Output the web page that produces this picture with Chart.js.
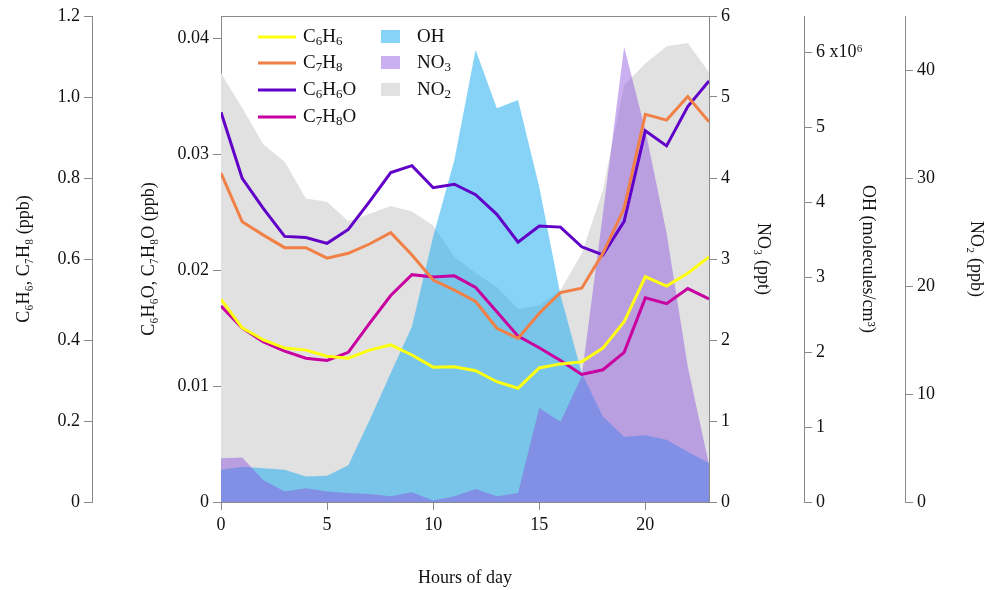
<!DOCTYPE html>
<html>
<head>
<meta charset="utf-8">
<script src="https://cdn.jsdelivr.net/npm/chart.js@4.4.0/dist/chart.umd.min.js"></script>
<style>
  body { margin: 0; background: #fff; }
</style>
</head>
<body>
<canvas id="myChart" width="987" height="590"></canvas>
<script>
// hours of the day
var hours = [0, 1, 2, 3, 4, 5, 6, 7, 8, 9, 10, 11, 12, 13, 14, 15, 16, 17, 18, 19, 20, 21, 22, 23];

// aromatics (ppb, outer left axis)
var c6h6 = [0.50, 0.43, 0.40, 0.38, 0.375, 0.36, 0.355, 0.375, 0.388, 0.363, 0.333, 0.334, 0.324, 0.297, 0.281, 0.331, 0.341, 0.346, 0.38, 0.445, 0.556, 0.533, 0.565, 0.605];
var c7h8 = [0.812, 0.692, 0.659, 0.628, 0.628, 0.602, 0.614, 0.637, 0.665, 0.61, 0.548, 0.523, 0.495, 0.429, 0.404, 0.466, 0.517, 0.528, 0.614, 0.725, 0.957, 0.943, 1.001, 0.939];

// phenols (ppb, inner left axis)
var c6h6o = [0.0336, 0.0279, 0.0253, 0.0229, 0.0228, 0.0223, 0.0235, 0.0259, 0.0284, 0.0290, 0.0271, 0.0274, 0.0265, 0.0248, 0.0224, 0.0238, 0.0237, 0.0220, 0.0213, 0.0242, 0.0320, 0.0307, 0.0341, 0.0363];
var c7h8o = [0.0169, 0.0150, 0.0138, 0.0130, 0.0124, 0.0122, 0.0129, 0.0154, 0.0178, 0.0196, 0.0194, 0.0195, 0.0185, 0.0164, 0.0143, 0.0133, 0.0122, 0.0110, 0.0114, 0.0129, 0.0176, 0.0171, 0.0184, 0.0175];

// oxidants
var no3 = [0.54, 0.55, 0.27, 0.13, 0.17, 0.13, 0.11, 0.10, 0.07, 0.12, 0.02, 0.07, 0.16, 0.07, 0.11, 1.16, 0.99, 1.55, 3.56, 5.62, 4.59, 3.32, 1.67, 0.46];      // ppt
var oh = [0.43, 0.47, 0.45, 0.43, 0.34, 0.35, 0.49, 1.09, 1.72, 2.34, 3.54, 4.56, 6.03, 5.25, 5.36, 4.20, 2.76, 1.72, 1.14, 0.87, 0.89, 0.83, 0.67, 0.52];      // 10^6 molecules/cm3
var no2 = [39.7, 36.5, 33.1, 31.5, 28.1, 27.8, 26.0, 26.7, 27.4, 26.9, 25.6, 22.7, 21.2, 19.9, 17.9, 18.2, 19.6, 23.0, 28.9, 38.6, 40.6, 42.2, 42.5, 39.8]; // ppb

function pts(vals) {
  return hours.map(function(h, i) { return { x: h, y: vals[i] }; });
}

var axisColor = "#8a8a8a";
Chart.defaults.font.family = "'Liberation Serif', 'Times New Roman', serif";
Chart.defaults.font.size = 18;
Chart.defaults.color = "#111";

function yAxis(pos, weight, max, step, width, titleText, padTop, fmt) {
  return {
    type: "linear",
    position: pos,
    weight: weight,
    min: 0,
    max: max,
    grid: { drawOnChartArea: false, tickLength: 8, color: axisColor },
    border: { color: axisColor },
    ticks: { stepSize: step, includeBounds: false, padding: 4, callback: fmt },
    title: { display: true, text: titleText, padding: { top: padTop, bottom: 0 }, font: { size: 18 } },
    afterFit: function(s) { s.width = width; }
  };
}

// legend drawn by hand so it can sit in two columns with subscripts
function drawRich(ctx, text, x, y) {
  var parts = text.split(/(_\d)/);
  parts.forEach(function(p) {
    if (!p) return;
    if (p[0] === "_") {
      ctx.font = "13px 'Liberation Serif', serif";
      ctx.fillText(p[1], x, y + 5);
      x += ctx.measureText(p[1]).width;
    } else {
      ctx.font = "19px 'Liberation Serif', serif";
      ctx.fillText(p, x, y);
      x += ctx.measureText(p).width;
    }
  });
}

var legendPlugin = {
  id: "twoColLegend",
  afterDraw: function(chart) {
    var ctx = chart.ctx;
    var ds = chart.data.datasets;
    var rowsY = [37, 63, 90, 117];
    ctx.save();
    ctx.textBaseline = "middle";
    ctx.fillStyle = "#111";
    for (var i = 0; i < 4; i++) {
      ctx.strokeStyle = ds[i].borderColor;
      ctx.lineWidth = 3;
      ctx.beginPath();
      ctx.moveTo(258, rowsY[i]);
      ctx.lineTo(296, rowsY[i]);
      ctx.stroke();
      ctx.fillStyle = "#111";
      drawRich(ctx, ds[i].richLabel, 303, rowsY[i]);
    }
    for (var j = 0; j < 3; j++) {
      var d = ds[4 + j];
      ctx.fillStyle = d.swatch;
      ctx.fillRect(381, rowsY[j] - 7, 19, 13);
      ctx.fillStyle = "#111";
      drawRich(ctx, d.richLabel, 417, rowsY[j]);
    }
    ctx.restore();
  }
};

var framePlugin = {
  id: "topFrame",
  afterDatasetsDraw: function(chart) {
    var a = chart.chartArea, ctx = chart.ctx;
    ctx.save();
    ctx.strokeStyle = axisColor;
    ctx.lineWidth = 1;
    ctx.beginPath();
    ctx.moveTo(a.left, a.top + 0.5);
    ctx.lineTo(a.right, a.top + 0.5);
    ctx.stroke();
    ctx.restore();
  }
};

var ctx = document.getElementById("myChart");
var myChart = new Chart(ctx, {
  type: "line",
  data: {
    datasets: [
      { label: "C6H6", richLabel: "C_6H_6", data: pts(c6h6), yAxisID: "yA", borderColor: "#ffff10", borderWidth: 3, pointRadius: 0, order: 0 },
      { label: "C7H8", richLabel: "C_7H_8", data: pts(c7h8), yAxisID: "yA", borderColor: "#f08046", borderWidth: 3, pointRadius: 0, order: 0 },
      { label: "C6H6O", richLabel: "C_6H_6O", data: pts(c6h6o), yAxisID: "yB", borderColor: "#6000c8", borderWidth: 3, pointRadius: 0, order: 0 },
      { label: "C7H8O", richLabel: "C_7H_8O", data: pts(c7h8o), yAxisID: "yB", borderColor: "#c800a0", borderWidth: 3, pointRadius: 0, order: 0 },
      { label: "OH", richLabel: "OH", data: pts(oh), yAxisID: "yOH", fill: "origin", backgroundColor: "rgba(37,175,242,0.55)", swatch: "rgba(37,175,242,0.55)", borderWidth: 0, pointRadius: 0, order: 2 },
      { label: "NO3", richLabel: "NO_3", data: pts(no3), yAxisID: "yNO3", fill: "origin", backgroundColor: "rgba(140,80,225,0.45)", swatch: "rgba(140,80,225,0.45)", borderWidth: 0, pointRadius: 0, order: 1 },
      { label: "NO2", richLabel: "NO_2", data: pts(no2), yAxisID: "yNO2", fill: "origin", backgroundColor: "#e1e1e1", swatch: "#e1e1e1", borderWidth: 0, pointRadius: 0, order: 3 }
    ]
  },
  options: {
    responsive: false,
    animation: false,
    layout: { padding: { top: 16, left: 0, right: 0, bottom: 0 } },
    elements: { line: { tension: 0 } },
    plugins: { legend: { display: false }, tooltip: { enabled: false } },
    scales: {
      x: {
        type: "linear",
        position: "bottom",
        min: 0,
        max: 23,
        grid: { drawOnChartArea: false, tickLength: 8, color: axisColor },
        border: { color: axisColor },
        ticks: { stepSize: 5, includeBounds: false, padding: 4, maxRotation: 0 },
        title: { display: true, text: "Hours of day", padding: { top: 0, bottom: 1 }, font: { size: 18 } },
        afterFit: function(s) { s.height = 88; }
      },
      yA: yAxis("left", 2, 1.2, 0.2, 92, "C₆H₆, C₇H₈ (ppb)", 13, function(v) { return v === 0 ? "0" : v.toFixed(1); }),
      yB: yAxis("left", 1, 0.0419, 0.01, 129, "C₆H₆O, C₇H₈O (ppb)", 46, function(v) { return v === 0 ? "0" : v.toFixed(2); }),
      yNO3: yAxis("right", 1, 6, 1, 95, "NO₃ (ppt)", 30, function(v) { return v; }),
      yOH: yAxis("right", 2, 6.48, 1, 101, "OH (molecules/cm³)", 26, function(v) { return v === 6 ? "6 x10⁶" : v; }),
      yNO2: yAxis("right", 3, 45, 10, 82, "NO₂ (ppb)", 0, function(v) { return v; })
    }
  },
  plugins: [legendPlugin, framePlugin]
});
</script>
</body>
</html>
